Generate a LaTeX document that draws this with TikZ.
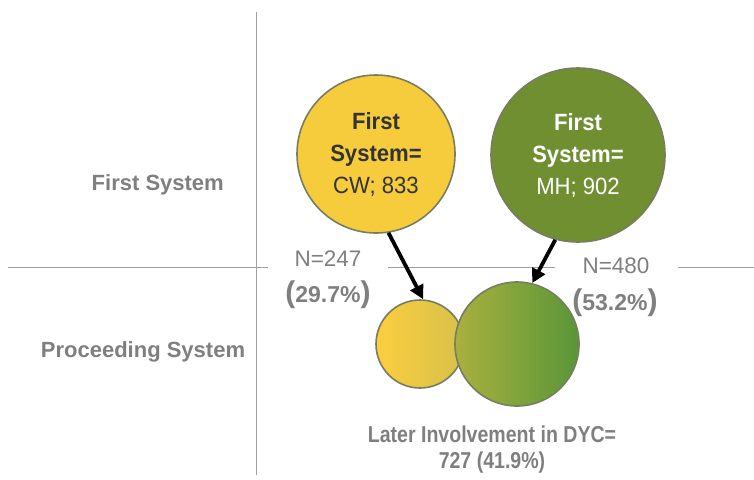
\documentclass[tikz,border=0pt]{standalone}
\usepackage{fontspec}
\usepackage{tikz}
\usetikzlibrary{arrows.meta}
\setmainfont{Liberation Sans}
\newfontfamily\narrowfont[FakeStretch=0.85]{Liberation Sans}
\newfontfamily\bubblefont[FakeStretch=0.94]{Liberation Sans}
\definecolor{axisgray}{RGB}{160,160,160}
\definecolor{labelgray}{RGB}{127,127,127}
\definecolor{cwyellow}{RGB}{247,204,60}
\definecolor{mhgreen}{RGB}{111,143,48}
\definecolor{rimgray}{RGB}{120,125,95}
\definecolor{cwleft}{RGB}{252,206,62}
\definecolor{cwright}{RGB}{214,192,74}
\definecolor{mhleft}{RGB}{170,176,62}
\definecolor{mhright}{RGB}{88,150,56}
\tikzset{
  bubble/.style={circle, draw=rimgray, line width=1.6pt, inner sep=0pt, align=center,
    font=\bubblefont\fontsize{23.5}{32}\selectfont},
  rowlabel/.style={text=labelgray, inner sep=0pt, font=\fontsize{22}{26}\selectfont\bfseries},
  flowarrow/.style={line width=3.8pt, -{Triangle[length=14pt,width=14pt]}}
}
\begin{document}
\begin{tikzpicture}[x=1pt, y=-1pt]
			\useasboundingbox (0,0) rectangle (754,479);
			% axes
			\draw[axisgray, line width=1pt](256,12)--(256,475);
			\draw[axisgray, line width=1pt](8,267)--(268,267);
			\draw[axisgray, line width=1pt](388,267)--(555,267);
			\draw[axisgray, line width=1pt](678,267)--(754,267);
			\node[rowlabel, anchor=base east] (firstrow) at (224,190) {First System};
			\node[rowlabel, anchor=base] (procrow) at (143,357) {Proceeding System};
			% first system bubbles
			\node[bubble, fill=cwyellow, minimum size=158pt, text=black!80] (cw) at (376,154)
				{\textbf{First}\\\textbf{System=}\\CW; 833};
			\node[bubble, fill=mhgreen, minimum size=174pt, text=white] (mh) at (578,155)
				{\textbf{First}\\\textbf{System=}\\MH; 902};
			% proceeding bubbles
			\node[bubble, left color=cwleft, right color=cwright, minimum size=88pt] (cwlater) at (420,344) {};
			\node[bubble, left color=mhleft, right color=mhright, minimum size=124pt] (mhlater) at (517,344) {};
			\draw[flowarrow](cw.-81)--(cwlater.86);
			\draw[flowarrow](mh.-105)--(mhlater.76);
			% counts
			\node[text=labelgray, anchor=base, font=\fontsize{22.5}{26}\selectfont] (cwn) at (328,266) {N=247};
			\node[text=labelgray, anchor=base, font=\fontsize{23}{26}\selectfont\bfseries] (cwpct) at (328,302)
				{{\fontsize{30}{30}\selectfont(}29.7\%{\fontsize{30}{30}\selectfont)}};
			\node[text=labelgray, anchor=base, font=\fontsize{22.5}{26}\selectfont] (mhn) at (616,273) {N=480};
			\node[text=labelgray, anchor=base, font=\fontsize{23}{26}\selectfont\bfseries] (mhpct) at (615,310)
				{{\fontsize{30}{30}\selectfont(}53.2\%{\fontsize{30}{30}\selectfont)}};
			\node[text=labelgray, anchor=base, font=\narrowfont\fontsize{23}{26}\selectfont\bfseries] (later) at (492,442) {Later Involvement in DYC=};
			\node[text=labelgray, anchor=base, font=\narrowfont\fontsize{23}{26}\selectfont\bfseries] (latern) at (492,468) {727 (41.9\%)};
		\end{tikzpicture}
\end{document}
